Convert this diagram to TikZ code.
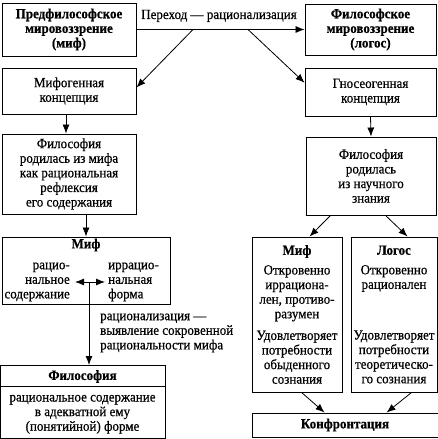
\documentclass[tikz,border=0pt]{standalone}
\usepackage{fontspec}
\setmainfont[FakeStretch=0.93,FakeBold=0.6]{Liberation Serif}
\usetikzlibrary{arrows.meta,calc}
\newcommand\fsz{\fontsize{14}{14.6}\selectfont}
\begin{document}
\begin{tikzpicture}[x=1pt,y=-1pt,
  box/.style={draw,line width=0.9pt,inner sep=2pt,align=center,font=\fsz},
  hbox/.style={box,font=\fsz\bfseries},
  arr/.style={-{Latex[length=9pt,width=7pt]},line width=0.8pt},
  darr/.style={{Latex[length=9pt,width=7pt]}-{Latex[length=9pt,width=7pt]},line width=0.8pt},
  txt/.style={inner sep=0pt,font=\fsz}]
\useasboundingbox (0,0) rectangle (438,439);

\node[hbox,minimum width=134pt,minimum height=53pt] (p1) at (69,29.5) {Предфилософское\\мировоззрение\\(миф)};
\node[hbox,minimum width=131pt,minimum height=51pt] (p2) at (370.5,29.5) {Философское\\мировоззрение\\(логос)};
\node[txt,anchor=base] (tr) at (219,19) {Переход — рационализация};
\draw[arr] (p1.east) -- (p2.west);
\coordinate (pl) at (193,29.5);
\coordinate (pr) at (248,29.5);

\node[box,minimum width=134pt,minimum height=46pt] (m1) at (69,91) {Мифогенная\\концепция};
\node[box,minimum width=131pt,minimum height=48pt] (g1) at (370.5,92) {Гносеогенная\\концепция};
\node[box,minimum width=134pt,minimum height=80pt] (f1) at (69,174) {Философия\\родилась из мифа\\как рациональная\\рефлексия\\его содержания};
\node[box,minimum width=130pt,minimum height=78pt] (f2) at (371,176) {Философия\\родилась\\из научного\\знания};

\node[box,minimum width=168pt,minimum height=67pt] (mL) at (86,270.5) {};
\node[txt,font=\fsz\bfseries] (mLh) at (86,245) {Миф};
\node[txt,align=right,anchor=east] (mLa) at (70,282) {рацио-\\нальное\\содержание};
\node[txt,align=left,anchor=west] (mLb) at (108,282) {иррацио-\\нальная\\форма};
\coordinate (da) at (89,282);
\draw[darr] ([xshift=-14pt]da) -- ([xshift=16pt]da);

\node[box,minimum width=165pt,minimum height=73pt,anchor=north] (pB) at (82.5,365) {\textbf{Философия}\\[7pt]рациональное содержание\\в адекватной ему\\(понятийной) форме};
\draw[line width=0.9pt] ([yshift=-21pt]pB.north west) -- ([yshift=-21pt]pB.north east);
\draw[arr] (da) -- (da |- pB.north);
\node[txt,align=left,anchor=west] (lab) at (100,333) {рационализация —\\выявление сокровенной\\рациональности мифа};

\node[box,minimum width=90pt,minimum height=155pt] (mR) at (297,314.5) {\textbf{Миф}\\[5pt]Откровенно\\иррациона-\\лен, противо-\\разумен\\[7pt]Удовлетворяет\\потребности\\обыденного\\сознания};
\node[box,minimum width=86pt,minimum height=155pt] (lg) at (394,314.5) {\textbf{Логос}\\[5pt]Откровенно\\рационален\\[36pt]Удовлетворяет\\потребности\\теоретическо-\\го сознания};
\node[hbox,minimum width=186pt,minimum height=24pt] (cf) at (345,425) {Конфронтация};

\draw[arr] (pl) -- (m1.3);
\draw[arr] (pr) -- (g1.172);
\draw[arr] ([xshift=-3pt]m1.south) -- ([xshift=-3pt]f1.north);
\draw[arr] (mL.north |- f1.south) -- (mL.north);
\draw[arr] (g1.south) -- (f2.north);
\draw[arr] ([xshift=25pt]f2.south west) -- ([xshift=58pt]mR.north west);
\draw[arr] ([xshift=80pt]f2.south west) -- ([xshift=57pt]lg.north west);
\draw[arr] ([xshift=50pt]mR.south west) -- ([xshift=73pt]cf.north west);
\draw[arr] ([xshift=61pt]lg.south west) -- ([xshift=135pt]cf.north west);
\end{tikzpicture}
\end{document}
